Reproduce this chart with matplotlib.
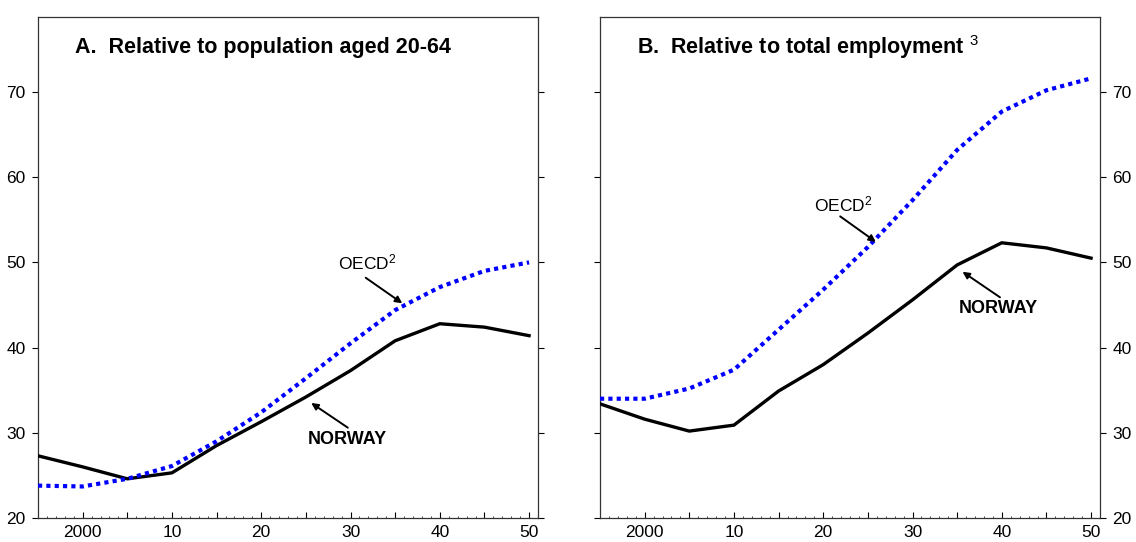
import matplotlib
matplotlib.use("Agg")
import matplotlib.pyplot as plt
from matplotlib.ticker import MultipleLocator

plt.rcParams['font.family'] = ['Liberation Sans', 'DejaVu Sans']
plt.rcParams['mathtext.fontset'] = 'custom'
plt.rcParams['mathtext.rm'] = 'Liberation Sans'
plt.rcParams['mathtext.it'] = 'Liberation Sans'
plt.rcParams['mathtext.bf'] = 'Liberation Sans:bold'

years = [1995, 2000, 2005, 2010, 2015, 2020, 2025, 2030, 2035, 2040, 2045, 2050]
norway_pop = [27.3, 26.0, 24.6, 25.3, 28.5, 31.3, 34.2, 37.3, 40.8, 42.8, 42.4, 41.4]
oecd_pop = [23.8, 23.7, 24.6, 26.1, 29.0, 32.4, 36.4, 40.5, 44.4, 47.1, 49.0, 50.0]
norway_emp = [33.4, 31.6, 30.2, 30.9, 34.9, 38.0, 41.7, 45.6, 49.7, 52.3, 51.7, 50.5]
oecd_emp = [34.0, 34.0, 35.2, 37.4, 42.1, 46.8, 51.8, 57.3, 63.2, 67.7, 70.2, 71.6]

xticks = [2000, 2005, 2010, 2015, 2020, 2025, 2030, 2035, 2040, 2045, 2050]
xticklabels = ['2000', '', '10', '', '20', '', '30', '', '40', '', '50']
yticks = [20, 30, 40, 50, 60, 70]

titles = ["A.  Relative to population aged 20-64",
          "B.  Relative to total employment $^{3}$"]

fig = plt.figure(figsize=(11.36, 5.42), dpi=100)
axA = fig.add_axes([38/1136, 1-518/542, 500/1136, 501/542])
axB = fig.add_axes([600/1136, 1-518/542, 500/1136, 501/542])

for ax, nor, oecd, title, side in [(axA, norway_pop, oecd_pop, titles[0], 'left'),
                                   (axB, norway_emp, oecd_emp, titles[1], 'right')]:
    ax.plot(years, nor, color='black', lw=2.4, solid_joinstyle='miter', zorder=3)
    ax.plot(years, oecd, color='#0000FF', lw=3.0, linestyle=(0, (1, 1.0)), zorder=3)
    ax.set_xlim(1995, 2051)
    ax.set_ylim(20, 78.8)
    ax.set_xticks(xticks)
    ax.set_xticklabels(xticklabels, fontsize=12.5)
    ax.xaxis.set_minor_locator(MultipleLocator(1))
    ax.set_yticks(yticks)
    ax.tick_params(axis='x', which='major', direction='in', length=4, width=0.8, pad=5)
    ax.tick_params(axis='x', which='minor', direction='in', length=1.5, width=0.5)
    if side == 'left':
        ax.tick_params(axis='y', which='both', left=True, right=True, labelleft=True,
                       labelright=False, direction='out', length=4, width=0.8,
                       labelsize=12.5, pad=5)
    else:
        ax.yaxis.tick_right()
        ax.tick_params(axis='y', which='both', left=True, right=True, labelleft=False,
                       labelright=True, direction='out', length=4, width=0.8,
                       labelsize=12.5, pad=5)
    for s in ax.spines.values():
        s.set_linewidth(0.9)
        s.set_color('#333333')
    ax.text(0.074, 0.94, title, transform=ax.transAxes, fontsize=15.5,
            fontweight='bold', ha='left', va='center')


def label(ax, text, txy, start, tip, bold=False):
    ax.text(txy[0], txy[1], text, fontsize=13 if bold else 12.5,
            fontweight='bold' if bold else 'normal', ha='center', va='center')
    ax.annotate('', xy=tip, xytext=start,
                arrowprops=dict(arrowstyle='-|>', color='black', lw=1.4,
                                mutation_scale=10, shrinkA=0, shrinkB=0))


label(axA, "OECD$^{2}$", (2031.9, 50.0), (2031.7, 48.2), (2035.8, 45.2))
label(axA, "NORWAY", (2029.6, 29.2), (2029.7, 30.6), (2025.6, 33.5), bold=True)
label(axB, "OECD$^{2}$", (2022.2, 56.8), (2021.9, 55.4), (2025.9, 52.4))
label(axB, "NORWAY", (2039.6, 44.6), (2039.8, 45.9), (2035.6, 48.9), bold=True)

fig.savefig("out.png", dpi=100)
